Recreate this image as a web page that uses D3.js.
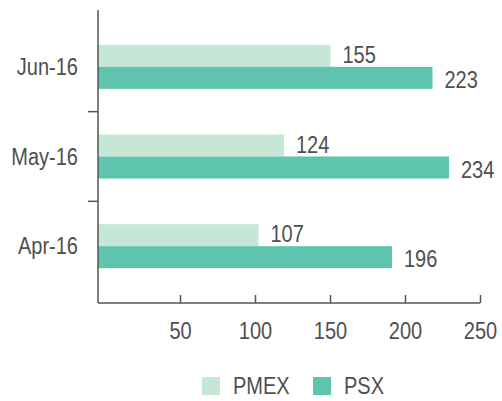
<!DOCTYPE html>
<html>
<head>
<meta charset="utf-8">
<script src="https://cdn.jsdelivr.net/npm/d3@7"></script>
<style>
  body { margin: 0; background: #fff; }
  text { font-family: "Liberation Sans", Arial, sans-serif; fill: #4f4f4f; }
</style>
</head>
<body>
<div id="chart"></div>
<script>
// chart data
var months = ["Jun-16", "May-16", "Apr-16"];
var seriesNames = ["PMEX", "PSX"];
var pmex = [155, 124, 107];
var psx = [223, 234, 196];
var xTicks = [50, 100, 150, 200, 250];
var colors = ["#c6e7d6", "#5ec4ad"];

var svgWidth = 502;
var svgHeight = 401;
var fontSize = 23;
var squeeze = 0.87; // original uses a condensed face, squeeze regular one

var svg = d3.select("#chart")
  .append("svg")
  .attr("width", svgWidth)
  .attr("height", svgHeight);

// places a text with horizontal squeeze at (x, y)
function place(sel, fx, fy) {
  sel.attr("transform", function(d, i) {
    return "translate(" + fx(d, i) + "," + fy(d, i) + ") scale(" + squeeze + ",1)";
  })
  .attr("dy", "0.36em")
  .attr("font-size", fontSize);
}

// bar scale starts at the axis line, tick scale sits a little to the right (as in original)
var x = d3.scaleLinear().domain([0, 250]).range([98, 473]);
var xAxisScale = d3.scaleLinear().domain([0, 250]).range([105, 480]);

var y = d3.scaleBand().domain(months).range([22, 291]);
var inner = d3.scaleBand().domain(seriesNames).range([0, 44]);

var axisTop = 10, axisBottom = 303;

// bars
var rows = months.map(function(m, i) {
  return [{m: m, s: "PMEX", v: pmex[i]}, {m: m, s: "PSX", v: psx[i]}];
});
var barTop = function(d) { return y(d.m) + y.bandwidth() / 2 - 22 + inner(d.s); };

var groups = svg.selectAll(".grp")
  .data(rows)
  .enter()
  .append("g")
  .attr("class", "grp");

groups.selectAll("rect")
  .data(function(d) { return d; })
  .enter()
  .append("rect")
  .attr("x", x(0))
  .attr("y", barTop)
  .attr("width", function(d) { return x(d.v) - x(0); })
  .attr("height", inner.bandwidth())
  .attr("fill", function(d) { return colors[seriesNames.indexOf(d.s)]; });

groups.selectAll("text")
  .data(function(d) { return d; })
  .enter()
  .append("text")
  .call(place,
    function(d) { return x(d.v) + 12; },
    function(d) { return barTop(d) + inner.bandwidth() / 2 + (d.s == "PSX" ? 2 : -1); })
  .text(function(d) { return d.v; });

// y axis
svg.append("line")
  .attr("x1", 98).attr("x2", 98)
  .attr("y1", axisTop).attr("y2", axisBottom)
  .attr("stroke", "#555").attr("stroke-width", 1.5);

svg.selectAll(".ytick")
  .data(months.slice(1))
  .enter()
  .append("line")
  .attr("x1", 88).attr("x2", 98)
  .attr("y1", function(d) { return y(d) - y.step() * y.paddingInner() / 2; })
  .attr("y2", function(d) { return y(d); })
  .attr("stroke", "#555").attr("stroke-width", 1.5);

svg.selectAll(".ylab")
  .data(months)
  .enter()
  .append("text")
  .attr("text-anchor", "end")
  .call(place,
    function() { return 78; },
    function(d) { return y(d) + y.bandwidth() / 2; })
  .text(function(d) { return d; });

// x axis
var bottomAxis = d3.axisBottom(xAxisScale)
  .tickValues(xTicks)
  .tickSize(8)
  .tickPadding(12);

var xg = svg.append("g")
  .attr("transform", "translate(0," + axisBottom + ")")
  .call(bottomAxis);
xg.attr("font-family", null).attr("font-size", null);
xg.select(".domain").remove();
xg.selectAll("line").attr("stroke", "#555").attr("stroke-width", 1.5).attr("y1", -8).attr("y2", 0);
xg.selectAll(".tick text")
  .attr("y", null)
  .attr("fill", "#4f4f4f")
  .call(place, function() { return 0; }, function() { return 28; });

svg.append("line")
  .attr("x1", 98).attr("x2", 480)
  .attr("y1", axisBottom).attr("y2", axisBottom)
  .attr("stroke", "#555").attr("stroke-width", 1.5);

// legend
var legend = svg.selectAll(".leg")
  .data(seriesNames)
  .enter()
  .append("g")
  .attr("transform", function(d, i) { return "translate(" + (202 + i * 111) + ",377)"; });

legend.append("rect")
  .attr("width", 18).attr("height", 18)
  .attr("fill", function(d, i) { return colors[i]; });

legend.append("text")
  .call(place, function() { return 31; }, function() { return 9; })
  .text(function(d) { return d; });
</script>
</body>
</html>
